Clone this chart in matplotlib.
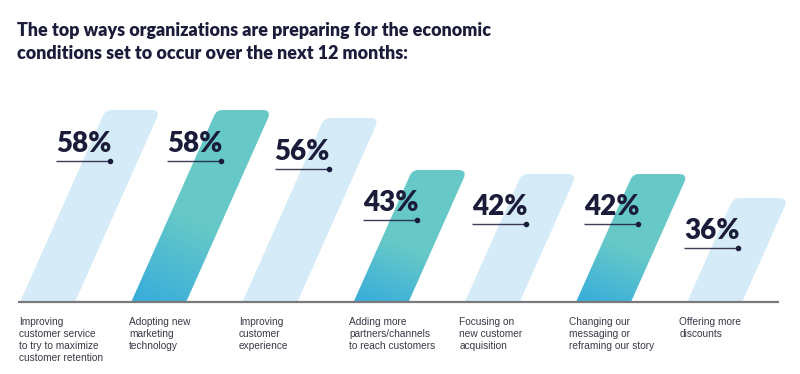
import numpy as np
import matplotlib
matplotlib.use("Agg")
import matplotlib.pyplot as plt
from matplotlib.path import Path
from matplotlib.patches import PathPatch
from matplotlib.colors import LinearSegmentedColormap

# ---- data ----
categories = [
    "Improving\ncustomer service\nto try to maximize\ncustomer retention",
    "Adopting new\nmarketing\ntechnology",
    "Improving\ncustomer\nexperience",
    "Adding more\npartners/channels\nto reach customers",
    "Focusing on\nnew customer\nacquisition",
    "Changing our\nmessaging or\nreframing our story",
    "Offering more\ndiscounts",
]
values = [58, 58, 56, 43, 42, 42, 36]
value_labels = ["58%", "58%", "56%", "43%", "42%", "42%", "36%"]
highlight = [False, True, False, True, False, True, False]
title = ("The top ways organizations are preparing for the economic\n"
         "conditions set to occur over the next 12 months:")

# ---- style ----
NAVY = "#1b1b3a"
LIGHT = "#d5ebf7"
TEAL_TOP = "#67c9c7"
BLUE_BOT = "#37acdc"
W, H, DPI = 800, 374, 100

fig = plt.figure(figsize=(W / DPI, H / DPI), dpi=DPI)
fig.patch.set_facecolor("white")

base_px = 302          # baseline from top (px)
SX = 111.2             # px per category unit
Y0 = 10.0              # y value at baseline
SY = 4.0               # px per percent
ax = fig.add_axes([0, (H - base_px) / H, 1, base_px / H])
x0 = -20 / SX
ax.set_xlim(x0, x0 + W / SX)
ax.set_ylim(Y0, Y0 + base_px / SY)
ax.axis("off")

slope_px = 0.445       # horizontal px per vertical px
bw_px = 55             # horizontal bar width in px
r_tr, r_tl = 9.0, 6.0  # corner radii (px)

cmap = LinearSegmentedColormap.from_list("g", [TEAL_TOP, TEAL_TOP, BLUE_BOT])


def rounded_path(pts_px, radii):
    """pts in px (x right, y up), closed polygon with corner radii."""
    verts, codes = [], []
    n = len(pts_px)
    for k in range(n):
        c = np.array(pts_px[k])
        r = radii[k]
        if r <= 0:
            verts.append(c)
            codes.append(Path.MOVETO if k == 0 else Path.LINETO)
            continue
        p_prev = np.array(pts_px[k - 1])
        p_next = np.array(pts_px[(k + 1) % n])
        u1 = (p_prev - c) / np.linalg.norm(p_prev - c)
        u2 = (p_next - c) / np.linalg.norm(p_next - c)
        a = c + r * u1
        b = c + r * u2
        verts.append(a)
        codes.append(Path.MOVETO if k == 0 else Path.LINETO)
        verts += [c, b]
        codes += [Path.CURVE3, Path.CURVE3]
    verts.append(verts[0])
    codes.append(Path.CLOSEPOLY)
    return np.array(verts), codes


for i, v in enumerate(values):
    h_px = (v - Y0) * SY
    bl = (i * SX, 0.0)
    br = (i * SX + bw_px, 0.0)
    tr = (i * SX + bw_px + slope_px * h_px, h_px)
    tl = (i * SX + slope_px * h_px, h_px)
    vp, codes = rounded_path([bl, br, tr, tl], [0, 0, r_tr, r_tl])
    vd = np.column_stack([vp[:, 0] / SX, vp[:, 1] / SY + Y0])
    path = Path(vd, codes)
    if highlight[i]:
        patch = PathPatch(path, facecolor="none", edgecolor="none")
        ax.add_patch(patch)
        xs = vd[:, 0]
        ny, nx = 120, 60
        yy, xx = np.mgrid[0:1:ny * 1j, 0:1:nx * 1j]
        t = np.clip(0.85 * yy + 0.3 * (1 - xx) - 0.15, 0, 1)  # yy=0 top
        im = ax.imshow(t, cmap=cmap, vmin=0, vmax=1, aspect="auto",
                       extent=[xs.min(), xs.max(), Y0, v], origin="upper",
                       interpolation="bilinear", zorder=1)
        im.set_clip_path(patch)
    else:
        patch = PathPatch(path, facecolor=LIGHT, edgecolor="none", zorder=1)
        ax.add_patch(patch)

    # value label with underline
    u_px = 3.95 * (v - 22.3)
    uy = Y0 + u_px / SY
    left_edge = i + slope_px * u_px / SX
    lx = left_edge - 27 / SX
    rx = lx + 54 / SX
    ax.plot([lx, rx], [uy, uy], color=NAVY, lw=1.0, alpha=0.85,
            solid_capstyle="butt", zorder=3)
    ax.plot([rx], [uy], marker="o", ms=3, color=NAVY, zorder=3)
    ax.text(lx, uy + 9 / SY, value_labels[i], fontsize=20, fontweight="heavy",
            family=["Lato", "DejaVu Sans"], color=NAVY, ha="left",
            va="baseline", zorder=4)

    # category label
    ax.text(i * 0.99 - 0.01, Y0 - 15 / SY, categories[i], fontsize=7.25,
            family=["Liberation Sans", "DejaVu Sans"], color="#3a3a48",
            ha="left", va="top", linespacing=1.25, clip_on=False)

# baseline
ax.plot([-0.018, 6.826], [Y0, Y0], color="#7a7a7a",
        lw=1.6, solid_capstyle="butt", zorder=2, clip_on=False)

fig.text(17 / W, 1 - 22 / H, title, fontsize=12.85, fontweight="heavy",
         family=["Lato", "DejaVu Sans"], color=NAVY, ha="left", va="top",
         linespacing=1.45)

fig.savefig("out.png", dpi=DPI, facecolor="white")
